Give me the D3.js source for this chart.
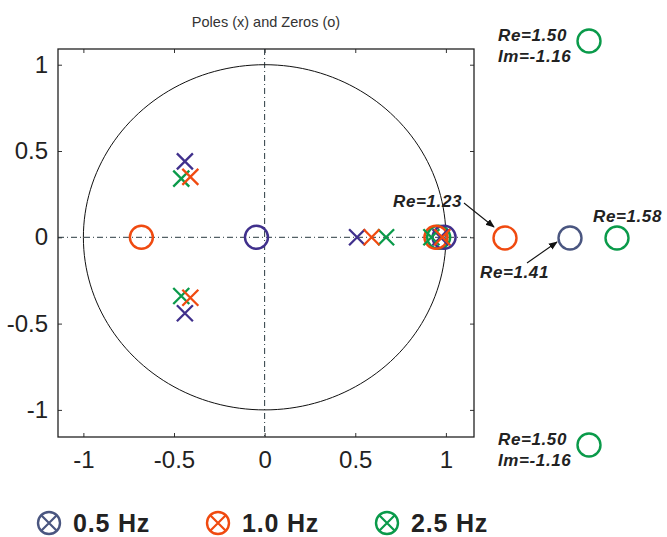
<!DOCTYPE html>
<html>
<head>
<meta charset="utf-8">
<script src="https://cdn.jsdelivr.net/npm/d3@7"></script>
<style>
  html, body { margin: 0; padding: 0; background: #fff; }
  svg { display: block; }
</style>
</head>
<body>
<svg id="chart" width="667" height="537"></svg>
<script>
// Filter pole/zero locations for three cutoff frequencies
const seriesNames = ["0.5 Hz", "1.0 Hz", "2.5 Hz"];
const seriesColors = ["#40308c", "#f04a10", "#0a9a4a"];
const legendColors = ["#4a5680", "#f04a10", "#0a9a4a"];

// poles: [re, im]
const poles05 = [[-0.44, 0.44], [-0.44, -0.44], [0.51, 0], [0.97, 0]];
const poles10 = [[-0.41, 0.35], [-0.41, -0.35], [0.59, 0], [0.98, 0]];
const poles25 = [[-0.46, 0.34], [-0.46, -0.34], [0.67, 0], [0.92, 0]];

// zeros inside the plotted region: [re, im]
const zeros05 = [[-0.045, 0], [0.99, 0]];
const zeros10 = [[-0.68, 0], [0.945, 0]];
const zeros25 = [[0.96, 0]];

// zeros lying beyond the axes, shown in the margin
const outerRe = [1.23, 1.41, 1.58, 1.50, 1.50];
const outerIm = [0, 0, 0, 1.16, -1.16];
const outerSeries = [1, 0, 2, 2, 2];
const outerReLabels = ["Re=1.23", "Re=1.41", "Re=1.58", "Re=1.50", "Re=1.50"];
const outerImLabels = ["", "", "", "Im=-1.16", "Im=-1.16"];

const xTicks = [-1, -0.5, 0, 0.5, 1];
const yTicks = [-1, -0.5, 0, 0.5, 1];
const xTickLabels = ["-1", "-0.5", "0", "0.5", "1"];
const yTickLabels = ["-1", "-0.5", "0", "0.5", "1"];

const titleText = "Poles (x) and Zeros (o)";

const svg = d3.select("#chart");
const plot = { left: 58, right: 474, top: 49, bottom: 437 };

const x = d3.scaleLinear().domain([-1.14, 1.155]).range([plot.left, plot.right]);
const y = d3.scaleLinear().domain([-1.157, 1.091]).range([plot.bottom, plot.top]);

// compressed placement for zeros drawn outside the axes
const ox = d3.scaleLinear().domain([1.23, 1.41, 1.50, 1.58]).range([505, 570, 589, 617]);
const oy = d3.scaleLinear().domain([-1.16, 0, 1.16]).range([445, 238, 41]);

const defs = svg.append("defs");
defs.append("marker")
  .attr("id", "arrow")
  .attr("viewBox", "0 0 10 10")
  .attr("refX", 9).attr("refY", 5)
  .attr("markerWidth", 9).attr("markerHeight", 9)
  .attr("markerUnits", "userSpaceOnUse")
  .attr("orient", "auto")
  .append("path").attr("d", "M0,1 L10,5 L0,9 Z").attr("fill", "#111");

// title
svg.append("text")
  .attr("x", (plot.left + plot.right) / 2).attr("y", 27)
  .attr("text-anchor", "middle")
  .attr("font-family", "Liberation Sans, Arial, sans-serif")
  .attr("font-size", 14.5).attr("fill", "#333")
  .text(titleText);

// axes box with inward ticks
const tickLen = 4;
const g = svg.append("g");
const bottomAxis = d3.axisBottom(x).tickValues(xTicks).tickSize(-tickLen).tickPadding(14)
  .tickFormat((d, i) => xTickLabels[i]);
const topAxis = d3.axisTop(x).tickValues(xTicks).tickSize(-tickLen).tickFormat("");
const leftAxis = d3.axisLeft(y).tickValues(yTicks).tickSize(-tickLen).tickPadding(10)
  .tickFormat((d, i) => yTickLabels[i]);
const rightAxis = d3.axisRight(y).tickValues(yTicks).tickSize(-tickLen).tickFormat("");

function styleAxis(sel) {
  sel.select(".domain").remove();
  sel.selectAll(".tick line").attr("stroke", "#333").attr("stroke-width", 1);
  sel.selectAll(".tick text")
    .attr("font-family", "Liberation Sans, Arial, sans-serif")
    .attr("font-size", 24).attr("fill", "#222");
}
g.append("g").attr("transform", `translate(0,${plot.bottom})`).call(bottomAxis).call(styleAxis);
g.append("g").attr("transform", `translate(0,${plot.top})`).call(topAxis).call(styleAxis);
g.append("g").attr("transform", `translate(${plot.left},0)`).call(leftAxis).call(styleAxis);
g.append("g").attr("transform", `translate(${plot.right},0)`).call(rightAxis).call(styleAxis);

// dash-dot reference axes
svg.append("line")
  .attr("x1", plot.left).attr("x2", plot.right)
  .attr("y1", y(0)).attr("y2", y(0))
  .attr("stroke", "#2a3a40").attr("stroke-width", 1)
  .attr("stroke-dasharray", "6,3,1,3");
svg.append("line")
  .attr("x1", x(0)).attr("x2", x(0))
  .attr("y1", plot.top).attr("y2", plot.bottom)
  .attr("stroke", "#2a3a40").attr("stroke-width", 1)
  .attr("stroke-dasharray", "6,3,1,3");

// unit circle
const circlePts = d3.range(0, 361, 2).map(a => [Math.cos(a * Math.PI / 180), Math.sin(a * Math.PI / 180)]);
svg.append("path")
  .datum(circlePts)
  .attr("d", d3.line().x(d => x(d[0])).y(d => y(d[1])))
  .attr("fill", "none").attr("stroke", "#111").attr("stroke-width", 1);

// box outline
svg.append("rect")
  .attr("x", plot.left).attr("y", plot.top)
  .attr("width", plot.right - plot.left).attr("height", plot.bottom - plot.top)
  .attr("fill", "none").attr("stroke", "#222").attr("stroke-width", 1.3);

const zeroR = 11.5;
const crossH = 8;

function drawZeros(data, color) {
  svg.append("g").selectAll("circle").data(data).join("circle")
    .attr("cx", d => x(d[0])).attr("cy", d => y(d[1]))
    .attr("r", zeroR)
    .attr("fill", "none").attr("stroke", color).attr("stroke-width", 2.4);
}
function drawPoles(data, color) {
  svg.append("g").selectAll("path").data(data).join("path")
    .attr("d", d => {
      const cx = x(d[0]), cy = y(d[1]);
      return `M${cx - crossH},${cy - crossH}L${cx + crossH},${cy + crossH}M${cx - crossH},${cy + crossH}L${cx + crossH},${cy - crossH}`;
    })
    .attr("fill", "none").attr("stroke", color).attr("stroke-width", 2.3);
}

drawZeros(zeros25, seriesColors[2]);
drawZeros(zeros05, seriesColors[0]);
drawZeros(zeros10, seriesColors[1]);
drawPoles(poles05, seriesColors[0]);
drawPoles(poles25, seriesColors[2]);
drawPoles(poles10, seriesColors[1]);

// zeros outside the axes
const outer = outerRe.map((re, i) => ({ re, im: outerIm[i], s: outerSeries[i], reLab: outerReLabels[i], imLab: outerImLabels[i] }));
const outerColors = ["#4a5680", seriesColors[1], seriesColors[2]];
svg.append("g").selectAll("circle").data(outer).join("circle")
  .attr("cx", d => ox(d.re)).attr("cy", d => oy(d.im))
  .attr("r", zeroR)
  .attr("fill", "none").attr("stroke", d => outerColors[d.s]).attr("stroke-width", 2.4);

// annotation placement relative to each marker
const labelOffsets = [
  { dx: -43, dy: -31, anchor: "end" },
  { dx: -90, dy: 40, anchor: "start" },
  { dx: -24, dy: -16, anchor: "start" },
  { dx: -91, dy: 0, anchor: "start" },
  { dx: -91, dy: 0, anchor: "start" }
];
const annot = svg.append("g")
  .attr("font-family", "Liberation Sans, Arial, sans-serif")
  .attr("font-size", 17).attr("font-weight", "bold").attr("font-style", "italic")
  .attr("fill", "#222").attr("letter-spacing", 0.6);
outer.forEach((d, i) => {
  const px = ox(d.re), py = oy(d.im), o = labelOffsets[i];
  annot.append("text").attr("x", px + o.dx).attr("y", py + o.dy)
    .attr("text-anchor", o.anchor).text(d.reLab);
  if (d.imLab) {
    annot.append("text").attr("x", px + o.dx).attr("y", py + o.dy + 21)
      .attr("text-anchor", o.anchor).text(d.imLab);
  }
});

// pointer arrows for the two nearest off-axis zeros
const arrows = [
  { i: 0, from: [-41, -35], to: [-11, -11] },
  { i: 1, from: [-43, 25], to: [-13, 4] }
];
arrows.forEach(a => {
  const d = outer[a.i];
  const px = ox(d.re), py = oy(d.im);
  svg.append("line")
    .attr("x1", px + a.from[0]).attr("y1", py + a.from[1])
    .attr("x2", px + a.to[0]).attr("y2", py + a.to[1])
    .attr("stroke", "#111").attr("stroke-width", 1.1)
    .attr("marker-end", "url(#arrow)");
});

// legend
const legendX = d3.scalePoint().domain(seriesNames).range([49, 387]);
const lg = svg.append("g").selectAll("g").data(seriesNames).join("g")
  .attr("transform", d => `translate(${legendX(d)},523)`);
lg.append("circle").attr("r", 11)
  .attr("fill", "none").attr("stroke", (d, i) => legendColors[i]).attr("stroke-width", 2.4);
lg.append("path")
  .attr("d", "M-7.5,-7.5L7.5,7.5M-7.5,7.5L7.5,-7.5")
  .attr("stroke", (d, i) => legendColors[i]).attr("stroke-width", 2.2);
lg.append("text")
  .attr("x", 24).attr("y", 8.5)
  .attr("font-family", "Liberation Sans, Arial, sans-serif")
  .attr("font-size", 25).attr("font-weight", "bold").attr("fill", "#222")
  .attr("letter-spacing", 0.8)
  .text(d => d);
</script>
</body>
</html>
